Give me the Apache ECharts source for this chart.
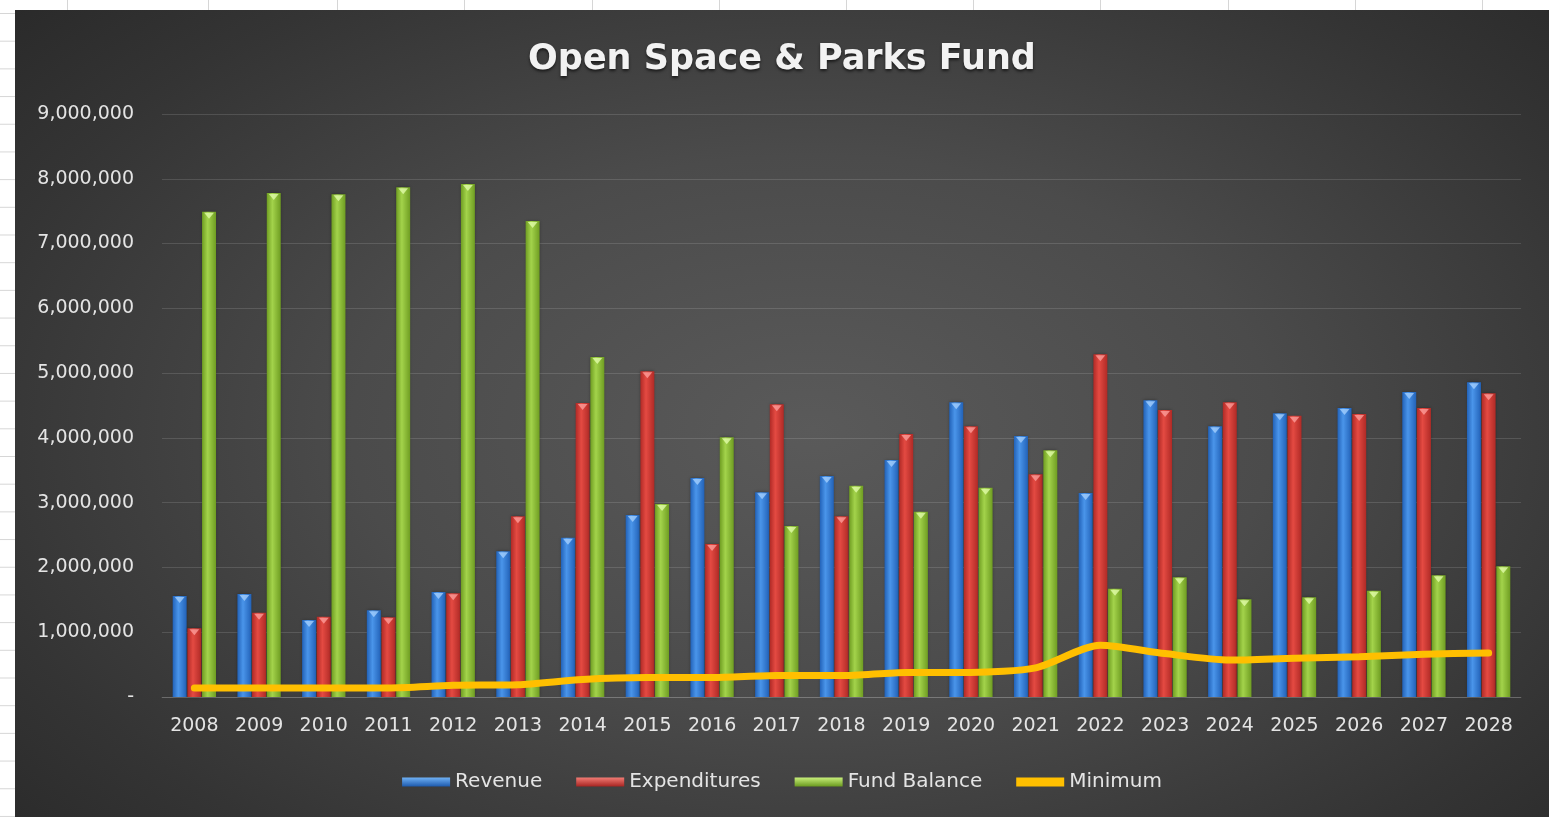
<!DOCTYPE html>
<html>
<head>
<meta charset="utf-8">
<script src="https://cdn.jsdelivr.net/npm/echarts@6/dist/echarts.min.js"></script>
<style>
  html, body { margin: 0; padding: 0; width: 1549px; height: 817px; overflow: hidden; background: #ffffff; }
  #rows {
    position: absolute; left: 0; top: 0; width: 1549px; height: 817px;
    background-image: linear-gradient(to bottom, #d6d6d6 1px, transparent 1px);
    background-size: 1549px 27.7px;
    background-position: 0 13px;
  }
  .col { position: absolute; top: 0; width: 1px; height: 817px; background: #d6d6d6; }
  #chart {
    position: absolute; left: 15px; top: 10px; width: 1534px; height: 807px;
    background: radial-gradient(ellipse 75% 85% at 52% 52%, #5a5a5a 0%, #4b4b4b 40%, #343434 75%, #262626 100%);
  }
</style>
</head>
<body>
<div id="rows"></div>
<div id="cols"></div>
<div id="chart"></div>
<script>
// Fiscal years shown on the category axis
const years = ['2008','2009','2010','2011','2012','2013','2014','2015','2016','2017','2018',
               '2019','2020','2021','2022','2023','2024','2025','2026','2027','2028'];

// Annual revenue
const revenue = [1560000,1590000,1190000,1340000,1620000,2250000,2460000,2810000,3380000,3160000,3410000,
                 3660000,4550000,4030000,3150000,4580000,4180000,4380000,4460000,4710000,4860000];

// Annual expenditures
const expenditures = [1060000,1300000,1240000,1230000,1600000,2790000,4540000,5030000,2360000,4520000,2790000,
                      4060000,4180000,3440000,5290000,4430000,4550000,4340000,4370000,4460000,4690000];

// Year-end fund balance
const fundBalance = [7490000,7780000,7760000,7870000,7920000,7350000,5250000,2980000,4010000,2640000,3260000,
                     2860000,3230000,3810000,1670000,1850000,1510000,1540000,1640000,1880000,2020000];

// Required minimum balance
const minimum = [140000,140000,140000,140000,180000,190000,270000,300000,300000,330000,330000,
                 380000,380000,450000,800000,670000,570000,600000,620000,660000,680000];

// Value axis ticks
const yMin = 0, yMax = 9000000, yStep = 1000000;

// Worksheet column borders behind the chart
const sheetColumns = [67, 208, 337, 464, 592, 719, 846, 973, 1100, 1228, 1355, 1482];
const colsHost = document.getElementById('cols');
sheetColumns.forEach(x => {
  const d = document.createElement('div');
  d.className = 'col';
  d.style.left = x + 'px';
  colsHost.appendChild(d);
});

function cylinder(edge, mid) {
  return new echarts.graphic.LinearGradient(0, 0, 1, 0, [
    { offset: 0, color: edge },
    { offset: 0.4, color: mid },
    { offset: 1, color: edge }
  ]);
}

function legendBar(top, bottom) {
  return new echarts.graphic.LinearGradient(0, 0, 0, 1, [
    { offset: 0, color: top },
    { offset: 1, color: bottom }
  ]);
}

const chart = echarts.init(document.getElementById('chart'), null, { renderer: 'canvas' });
const txt = '#e4e4e4';
const font = '"DejaVu Sans", "Open Sans", sans-serif';
const gap = { barGap: '5%', barCategoryGap: '33%' };

// Column series with a lighter bevel on each top
const columns = [
  { name: 'Revenue', data: revenue, edge: '#2262b8', mid: '#4a95ea', cap: '#a9d3ff' },
  { name: 'Expenditures', data: expenditures, edge: '#b02a26', mid: '#e44a42', cap: '#ffa3a0' },
  { name: 'Fund Balance', data: fundBalance, edge: '#6f9d22', mid: '#a3d34b', cap: '#e6ffb0' }
];

const series = [];
columns.forEach(c => {
  series.push(Object.assign({ type: 'bar', name: c.name, data: c.data,
    itemStyle: { color: cylinder(c.edge, c.mid), shadowColor: 'rgba(0,0,0,0.35)', shadowBlur: 3 } }, gap));
});
columns.forEach(c => {
  series.push(Object.assign({ type: 'pictorialBar', name: c.name + ' top', data: c.data,
    symbol: 'triangle', symbolRotate: 180, symbolPosition: 'end',
    symbolSize: ['70%', 6], symbolOffset: [0, 1], z: 4, silent: true,
    itemStyle: { color: c.cap, opacity: 0.75 } }, gap));
});
series.push({ type: 'line', name: 'Minimum', data: minimum, smooth: 0.25,
  symbol: 'none', z: 5,
  lineStyle: { color: '#ffbf00', width: 7, cap: 'round' },
  itemStyle: { color: '#ffbf00' } });

chart.setOption({
  backgroundColor: 'transparent',
  animation: false,
  title: {
    text: 'Open Space & Parks Fund',
    left: 'center', top: 27,
    textStyle: { color: '#f2f2f2', fontSize: 35, fontWeight: 'bold', fontFamily: font,
      textShadowColor: 'rgba(0,0,0,0.6)', textShadowBlur: 3, textShadowOffsetY: 2 }
  },
  grid: { left: 147, right: 28, top: 104, bottom: 120, containLabel: false },
  legend: {
    bottom: 20, left: 'center',
    itemWidth: 48, itemHeight: 9, itemGap: 34,
    textStyle: { color: txt, fontSize: 20, fontFamily: font, padding: [0, 0, 0, 0] },
    data: [
      { name: 'Revenue', icon: 'rect', itemStyle: { color: legendBar('#6fb1f5', '#1d5aae') } },
      { name: 'Expenditures', icon: 'rect', itemStyle: { color: legendBar('#f27b74', '#a82522') } },
      { name: 'Fund Balance', icon: 'rect', itemStyle: { color: legendBar('#c8ef7a', '#6a9a1f') } },
      { name: 'Minimum', icon: 'rect', itemStyle: { color: '#ffbf00' } }
    ]
  },
  xAxis: {
    type: 'category', data: years,
    axisLine: { show: true, lineStyle: { color: 'rgba(255,255,255,0.15)' } },
    axisTick: { show: false },
    axisLabel: { color: txt, fontSize: 19, fontFamily: font, margin: 20 }
  },
  yAxis: {
    type: 'value', min: yMin, max: yMax, interval: yStep,
    axisLine: { show: false }, axisTick: { show: false },
    splitLine: { lineStyle: { color: 'rgba(255,255,255,0.13)', width: 1 } },
    axisLabel: {
      color: txt, fontSize: 19, fontFamily: font, margin: 28,
      formatter: v => v === 0 ? '-' : v.toLocaleString('en-US')
    }
  },
  series: series
});
</script>
</body>
</html>
